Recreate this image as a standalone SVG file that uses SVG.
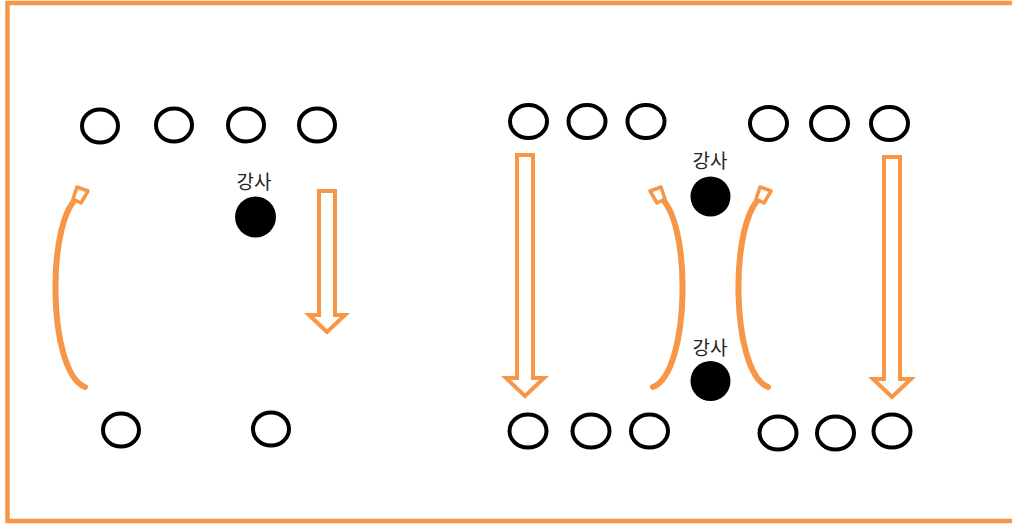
<svg xmlns="http://www.w3.org/2000/svg" xmlns:xlink="http://www.w3.org/1999/xlink" width="1012" height="524" viewBox="0 0 1012 524">
<style>
.seat{fill:#fff;stroke:#000;stroke-width:4}
.teacher{fill:#000}
.lbl{font-family:"Noto Sans CJK KR","Noto Sans",sans-serif;font-size:19px;fill:#222;text-anchor:middle}
.arr{fill:#fff;stroke:#F79646;stroke-width:4;stroke-linejoin:miter}
.crv{fill:none;stroke:#F79646;stroke-width:6;stroke-linecap:round}
.hd{fill:#fff;stroke:#F79646;stroke-width:3.5;stroke-linejoin:round}
</style>
<defs>
<g id="curve">
<path class="crv" d="M85,387 C47,372 46,215 80,196"/>
<polygon class="hd" points="77,187 88,191 81,203 73,199"/>
</g>
</defs>
<rect x="0" y="0" width="1012" height="524" fill="#fff"/>
<rect x="7.5" y="3" width="1010" height="518" fill="none" stroke="#F79646" stroke-width="4.5"/>
<g id="connectors">
<polygon class="arr" points="319,191 335,191 335,315 345,315 327,332 309,315 319,315"/>
<polygon class="arr" points="517,155 533,155 533,378 544,378 525,396 506,378 517,378"/>
<polygon class="arr" points="884,157 900,157 900,379 911,379 892,397 873,379 884,379"/>
<use xlink:href="#curve"/>
<use xlink:href="#curve" transform="translate(738,0) scale(-1,1)"/>
<use xlink:href="#curve" transform="translate(683,0)"/>
</g>
<g id="left-top-seats">
<ellipse class="seat" cx="100" cy="126" rx="18" ry="16.5"/>
<ellipse class="seat" cx="174" cy="125" rx="18" ry="16.5"/>
<ellipse class="seat" cx="246" cy="125" rx="18" ry="16.5"/>
<ellipse class="seat" cx="317" cy="125" rx="18" ry="16.5"/>
</g>
<g id="left-bottom-seats">
<ellipse class="seat" cx="121" cy="430" rx="18" ry="16.5"/>
<ellipse class="seat" cx="271" cy="429" rx="18" ry="16.5"/>
</g>
<g id="teacher-left">
<text class="lbl" x="254" y="189">강사</text>
<circle class="teacher" cx="255.5" cy="217" r="20.5"/>
</g>
<g id="right-top-seats">
<ellipse class="seat" cx="528.5" cy="121.5" rx="18.5" ry="16.5"/>
<ellipse class="seat" cx="587" cy="121.5" rx="18.5" ry="16.5"/>
<ellipse class="seat" cx="646" cy="121.5" rx="18.5" ry="16.5"/>
<ellipse class="seat" cx="768.5" cy="123.5" rx="18.5" ry="16.5"/>
<ellipse class="seat" cx="829.5" cy="123.5" rx="18.5" ry="16.5"/>
<ellipse class="seat" cx="889.5" cy="123.5" rx="18.5" ry="16.5"/>
</g>
<g id="right-bottom-seats">
<ellipse class="seat" cx="528" cy="431" rx="18.5" ry="16.5"/>
<ellipse class="seat" cx="591" cy="431" rx="18.5" ry="16.5"/>
<ellipse class="seat" cx="649.5" cy="431" rx="18.5" ry="16.5"/>
<ellipse class="seat" cx="778" cy="433" rx="18.5" ry="16.5"/>
<ellipse class="seat" cx="835.5" cy="433" rx="18.5" ry="16.5"/>
<ellipse class="seat" cx="892" cy="431" rx="18.5" ry="16.5"/>
</g>
<g id="teacher-right-top">
<text class="lbl" x="710" y="168">강사</text>
<circle class="teacher" cx="710.5" cy="196.5" r="20"/>
</g>
<g id="teacher-right-bottom">
<text class="lbl" x="710" y="355">강사</text>
<circle class="teacher" cx="710.5" cy="381" r="20"/>
</g>
</svg>
